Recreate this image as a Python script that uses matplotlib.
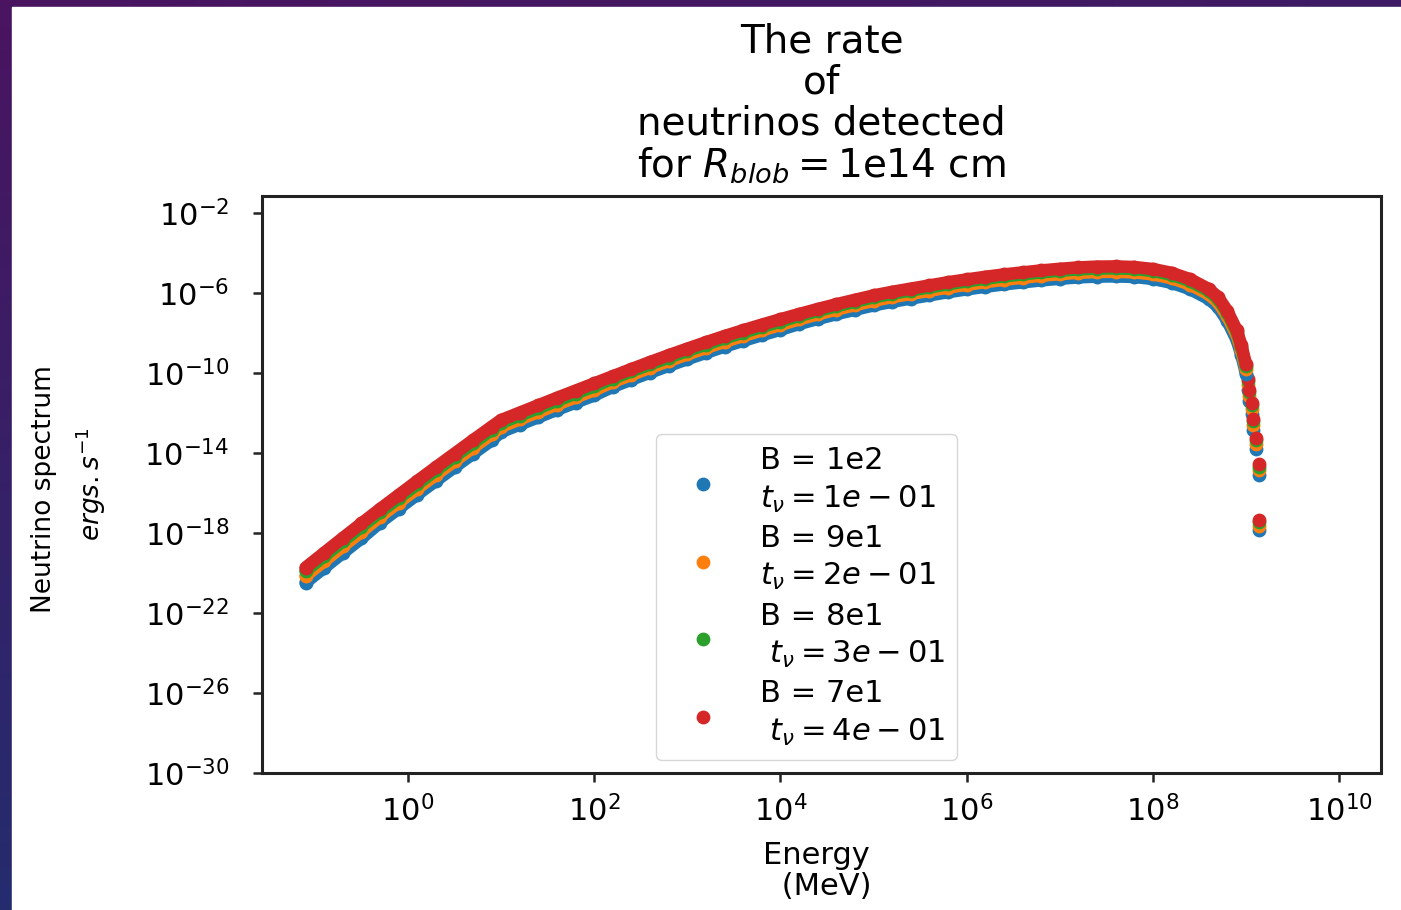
import numpy as np
import matplotlib
matplotlib.use('Agg')
import matplotlib.pyplot as plt
from matplotlib.colors import LinearSegmentedColormap
from matplotlib.patches import Rectangle

# log10 of energy (MeV) along the dense part of the curves
log_energy = [-1.1, -0.9, -0.7, -0.5, -0.3, -0.1, 0.1, 0.3, 0.5, 0.7, 0.9, 1.0,
              1.2, 1.4, 1.6, 1.8, 2.0, 2.2, 2.4, 2.6, 2.8, 3.0, 3.2, 3.4, 3.6,
              3.8, 4.0, 4.2, 4.4, 4.6, 4.8, 5.0, 5.2, 5.4, 5.6, 5.8, 6.0, 6.2,
              6.4, 6.6, 6.8, 7.0, 7.2, 7.4, 7.6, 7.8, 8.0, 8.2, 8.4, 8.6, 8.7,
              8.8, 8.9, 8.95, 9.0]

# log10 of the spectrum for each (B, t_v) pair
log_rate_b1e2 = [-20.48, -19.74, -19.00, -18.27,
                 -17.48, -16.78, -16.08, -15.39, -14.71, -14.03, -13.36,
                 -12.95, -12.58, -12.21, -11.84, -11.48, -11.12,
                 -10.69, -10.33, -9.98, -9.64, -9.31, -8.99, -8.68, -8.39, -8.11, -7.84,
                 -7.55, -7.30, -7.06, -6.84, -6.62, -6.44, -6.28, -6.12, -5.96, -5.82,
                 -5.69, -5.57, -5.47, -5.37, -5.29, -5.22, -5.18, -5.17, -5.20, -5.30,
                 -5.49, -5.81, -6.30, -6.70, -7.40, -8.35, -9.10, -10.05]
log_rate_b9e1 = [-20.15, -19.41, -18.67, -17.94,
                 -17.18, -16.48, -15.78, -15.09, -14.41, -13.73, -13.06,
                 -12.69, -12.32, -11.95, -11.58, -11.22, -10.86,
                 -10.45, -10.09, -9.74, -9.40, -9.07, -8.75, -8.44, -8.15, -7.87, -7.60,
                 -7.32, -7.07, -6.83, -6.61, -6.39, -6.21, -6.05, -5.89, -5.73, -5.59,
                 -5.46, -5.34, -5.24, -5.14, -5.06, -4.99, -4.95, -4.94, -4.97, -5.07,
                 -5.26, -5.58, -6.07, -6.47, -7.17, -8.12, -8.87, -9.82]
log_rate_b8e1 = [-19.90, -19.16, -18.42, -17.69,
                 -16.96, -16.26, -15.56, -14.87, -14.19, -13.51, -12.84,
                 -12.50, -12.13, -11.76, -11.39, -11.03, -10.67,
                 -10.28, -9.92, -9.57, -9.23, -8.90, -8.58, -8.27, -7.98, -7.70, -7.43,
                 -7.15, -6.90, -6.66, -6.44, -6.22, -6.04, -5.88, -5.72, -5.56, -5.42,
                 -5.29, -5.17, -5.07, -4.97, -4.89, -4.82, -4.78, -4.77, -4.80, -4.90,
                 -5.09, -5.41, -5.90, -6.30, -7.00, -7.95, -8.70, -9.65]
log_rate_b7e1 = [-19.73, -18.99, -18.25, -17.52,
                 -16.80, -16.10, -15.40, -14.71, -14.03, -13.35, -12.68,
                 -12.35, -11.98, -11.61, -11.24, -10.88, -10.52,
                 -10.16, -9.80, -9.45, -9.11, -8.78, -8.46, -8.15, -7.86, -7.58, -7.31,
                 -7.05, -6.80, -6.56, -6.34, -6.12, -5.94, -5.78, -5.62, -5.46, -5.32,
                 -5.19, -5.07, -4.97, -4.87, -4.79, -4.72, -4.68, -4.67, -4.70, -4.80,
                 -4.99, -5.31, -5.80, -6.20, -6.90, -7.85, -8.60, -9.55]

# sparse points at the high-energy cut-off
tail_log_energy = [9.025, 9.035, 9.065, 9.075, 9.11, 9.135, 9.145]
tail_b1e2 = [-10.87, -11.40, -12.07, -12.85, -13.82, -15.10, -17.85]
tail_b9e1 = [-10.62, -11.15, -11.82, -12.60, -13.57, -14.85, -17.65]
tail_b8e1 = [-10.42, -10.95, -11.62, -12.40, -13.37, -14.68, -17.45]
tail_b7e1 = [-10.32, -10.85, -11.52, -12.30, -13.27, -14.55, -17.35]

labels = ['B = 1e2\n$t_{\\nu} = 1e-01$',
          'B = 9e1\n$t_{\\nu} = 2e-01$',
          'B = 8e1\n $t_{\\nu}=3e-01$',
          'B = 7e1\n $t_{\\nu}=4e-01$']
colors = ['tab:blue', 'tab:orange', 'tab:green', 'tab:red']

x_ticks = [1e0, 1e2, 1e4, 1e6, 1e8, 1e10]
y_ticks = [1e-2, 1e-6, 1e-10, 1e-14, 1e-18, 1e-22, 1e-26, 1e-30]


fig = plt.figure(figsize=(14.01, 9.10), dpi=100)

# slide background with white plot area
bg = fig.add_axes([0, 0, 1, 1], zorder=-10)
yy, xx = np.mgrid[0:1:200j, 0:1:200j]
shade = np.clip(0.8 * yy + 0.25 * xx, 0, 1)
cmap = LinearSegmentedColormap.from_list('slide', ['#4a1460', '#1b3272'])
bg.imshow(shade, cmap=cmap, extent=[0, 1, 0, 1], aspect='auto', origin='upper')
bg.add_patch(Rectangle((12 / 1401, 0), 1, 903 / 910, color='white', transform=bg.transAxes))
bg.set_xlim(0, 1)
bg.set_ylim(0, 1)
bg.set_axis_off()

ax = fig.add_axes([262 / 1401, 137 / 910, 1119 / 1401, 577 / 910])

series = [log_rate_b1e2, log_rate_b9e1, log_rate_b8e1, log_rate_b7e1]
tails = [tail_b1e2, tail_b9e1, tail_b8e1, tail_b7e1]
E = 10 ** np.array(log_energy)
E_tail = 10 ** np.array(tail_log_energy)
for rate, tail, lab, c in zip(series, tails, labels, colors):
    ax.plot(E, 10 ** np.array(rate), '-', color=c, lw=9,
            marker='o', ms=9, solid_capstyle='round')
    ax.scatter(E_tail, 10 ** np.array(tail), s=80, color=c, label=lab)

ax.set_xscale('log')
ax.set_yscale('log')
ax.set_xlim(10 ** -1.568, 10 ** 10.45)
ax.set_ylim(1e-30, 10 ** -1.15)
ax.set_xticks(x_ticks)
ax.set_yticks(y_ticks)
ax.minorticks_off()

for s in ax.spines.values():
    s.set_linewidth(2.2)
    s.set_color('#222222')
ax.tick_params(labelsize=22, length=6.5, width=1.8, color='#222222')
ax.tick_params(axis='x', pad=9)
ax.tick_params(axis='y', pad=17)

ax.set_xlabel('Energy \n (MeV)', fontsize=22, labelpad=10, linespacing=1.1)
ax.set_ylabel('Neutrino spectrum \n$ergs.s^{-1}$', fontsize=19, labelpad=26,
              linespacing=1.65)
ax.set_title('The rate\nof\nneutrinos detected\nfor $R_{blob} = $1e14 cm',
             fontsize=28, linespacing=1.1, pad=14)

leg = ax.legend(loc='lower left', bbox_to_anchor=(0.352, 0.0225), fontsize=22,
                handlelength=2.3, handletextpad=0.7, borderpad=0.4, borderaxespad=0,
                labelspacing=0.3, edgecolor='#cccccc', framealpha=0.8)
for t in leg.get_texts():
    t.set_linespacing(1.35)

fig.savefig('out.png', dpi=100)
